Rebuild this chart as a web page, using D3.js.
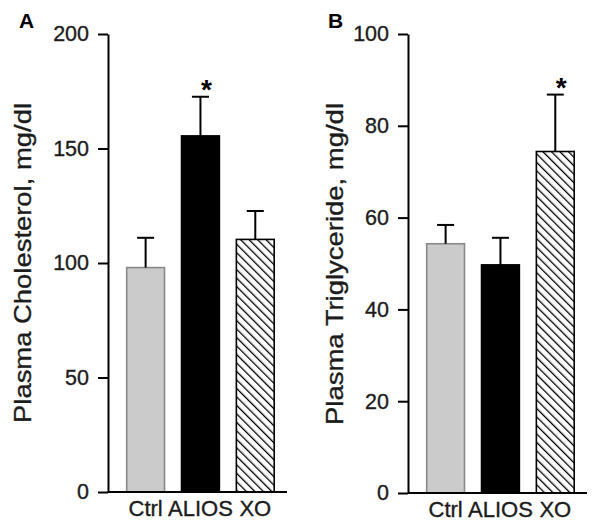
<!DOCTYPE html>
<html>
<head>
<meta charset="utf-8">
<script src="https://cdn.jsdelivr.net/npm/d3@7"></script>
<style>
  html, body { margin: 0; padding: 0; background: #fff; }
  svg { display: block; font-family: "Liberation Sans", Arial, sans-serif; }
</style>
</head>
<body>
<svg id="chart" width="600" height="524"></svg>
<script>
// ---- data ----
const categories = ["Ctrl", "ALIOS", "XO"];
const cholMean = [98, 155.5, 110.3];
const cholErr = [13, 17.1, 12.4];
const cholSig = [false, true, false];
const cholTicks = [0, 50, 100, 150, 200];
const trigMean = [54.3, 49.7, 74.4];
const trigErr = [4.1, 5.9, 12.4];
const trigSig = [false, false, true];
const trigTicks = [0, 20, 40, 60, 80, 100];

const svg = d3.select("#chart");
const defs = svg.append("defs");
const pat = defs.append("pattern")
  .attr("id", "hatch").attr("patternUnits", "userSpaceOnUse")
  .attr("width", 6).attr("height", 6)
  .attr("patternTransform", "rotate(-45)");
pat.append("rect").attr("width", 6).attr("height", 6).attr("fill", "#fff");
pat.append("line").attr("x1", 0).attr("y1", 0).attr("x2", 0).attr("y2", 6)
  .attr("stroke", "#000").attr("stroke-width", 2.6);

const fills = ["#cbcbcb", "#000", "url(#hatch)"];
const strokes = ["#8a8a8a", "#000", "#000"];
const textColor = "#1c1c1c";

function thicken(sel) {
  sel.attr("stroke", textColor).attr("stroke-width", 0.35);
}

function panel(opts) {
  const g = svg.append("g");
  const y = d3.scaleLinear().domain(opts.domain).range([opts.y0, opts.y1]);
  const x = d3.scaleBand().domain(categories)
    .range([opts.ax + 18.7, opts.ax + 166.2]).paddingInner(0.31).paddingOuter(0);

  const yAxis = d3.axisLeft(y).tickValues(opts.ticks).tickSize(10).tickSizeOuter(0).tickPadding(9);
  const ya = g.append("g").attr("transform", `translate(${opts.ax},0)`).call(yAxis);
  ya.attr("font-size", null).attr("font-family", null);
  ya.select(".domain").attr("stroke", "#000").attr("stroke-width", 2);
  ya.selectAll(".tick line").attr("stroke", "#000").attr("stroke-width", 2);
  ya.selectAll(".tick text").style("font-size", "21.5px").attr("fill", textColor).call(thicken);

  g.selectAll("rect.bar").data(opts.mean).join("rect")
    .attr("class", "bar")
    .attr("x", (d, i) => x(categories[i]))
    .attr("width", x.bandwidth())
    .attr("y", d => y(d))
    .attr("height", d => y(0) - y(d))
    .attr("fill", (d, i) => fills[i])
    .attr("stroke", (d, i) => strokes[i])
    .attr("stroke-width", 1.6);

  const cap = 8.5;
  opts.mean.forEach((m, i) => {
    const cx = x(categories[i]) + x.bandwidth() / 2;
    g.append("line").attr("x1", cx).attr("x2", cx)
      .attr("y1", y(m)).attr("y2", y(m + opts.err[i]))
      .attr("stroke", "#000").attr("stroke-width", 2);
    g.append("line").attr("x1", cx - cap).attr("x2", cx + cap)
      .attr("y1", y(m + opts.err[i])).attr("y2", y(m + opts.err[i]))
      .attr("stroke", "#000").attr("stroke-width", 2);
    if (opts.sig[i]) {
      g.append("text").attr("x", cx + 6).attr("y", y(m + opts.err[i]) + 2)
        .attr("text-anchor", "middle").style("font-size", "28px").attr("font-weight", "bold")
        .attr("fill", "#000").text("*");
    }
  });

  g.append("line").attr("x1", opts.ax).attr("x2", opts.ax + 179)
    .attr("y1", y(0)).attr("y2", y(0)).attr("stroke", "#000").attr("stroke-width", 2);
  const xAxis = d3.axisBottom(x).tickSize(0).tickPadding(8);
  const xa = g.append("g").attr("transform", `translate(0,${y(0)})`).call(xAxis);
  xa.attr("font-size", null).attr("font-family", null);
  xa.select(".domain").remove();
  xa.selectAll(".tick text").style("font-size", "22px").attr("fill", textColor).call(thicken);

  g.append("text")
    .attr("transform", `translate(${opts.titleX},${opts.titleY}) rotate(-90)`)
    .attr("text-anchor", "middle").style("font-size", "24px").attr("fill", textColor)
    .attr("textLength", opts.titleLen).attr("lengthAdjust", "spacingAndGlyphs")
    .call(thicken)
    .text(opts.title);

  g.append("text").attr("x", opts.letterX).attr("y", 28)
    .style("font-size", "21px").attr("font-weight", "bold").attr("fill", "#000")
    .text(opts.letter);
}

panel({
  ax: 108, y0: 492, y1: 34, domain: [0, 200], ticks: cholTicks,
  mean: cholMean, err: cholErr, sig: cholSig,
  title: "Plasma Cholesterol, mg/dl", titleX: 30.5, titleY: 263, titleLen: 320,
  letter: "A", letterX: 19
});
panel({
  ax: 408, y0: 493, y1: 34, domain: [0, 100], ticks: trigTicks,
  mean: trigMean, err: trigErr, sig: trigSig,
  title: "Plasma Triglyceride, mg/dl", titleX: 342.5, titleY: 264, titleLen: 322,
  letter: "B", letterX: 328
});
</script>
</body>
</html>
